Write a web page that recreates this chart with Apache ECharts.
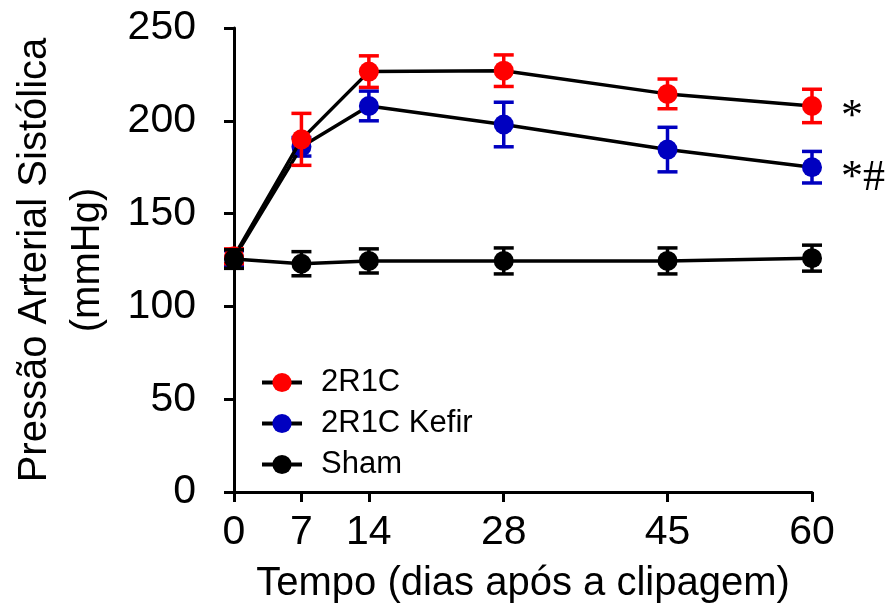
<!DOCTYPE html>
<html>
<head>
<meta charset="utf-8">
<script src="https://cdn.jsdelivr.net/npm/echarts@6/dist/echarts.min.js"></script>
<style>
  html, body { margin: 0; padding: 0; background: #fff; }
  #chart { width: 885px; height: 604px; }
</style>
</head>
<body>
<div id="chart"></div>
<script>
// dias após a clipagem
var days = [0, 7, 14, 28, 45, 60];

// médias e erros (mmHg)
var r2r1c = [127, 190, 226.5, 227, 214.5, 208];
var r2r1cErr = [4, 14, 8.5, 8.5, 8, 9];
var kefir = [126, 186, 208, 198, 184.5, 175];
var kefirErr = [4, 5, 8, 12, 12, 8.5];
var sham = [125.5, 123, 124.5, 124.5, 124.5, 126];
var shamErr = [5, 6.5, 6.5, 7, 7, 7];

var names = ["2R1C", "2R1C Kefir", "Sham"];
var colors = ["#ff0000", "#0000c0", "#000000"];
var marks = ["*", "*#", ""];

var yTicks = [0, 50, 100, 150, 200, 250];

var font = "Liberation Sans, Arial, sans-serif";

function pts(vals) {
  return days.map(function (d, i) { return [d, vals[i]]; });
}
function errs(vals, e) {
  return days.map(function (d, i) { return [d, vals[i] - e[i], vals[i] + e[i]]; });
}

function errorBar(color) {
  return function (params, api) {
    var x = api.value(0);
    var top = api.coord([x, api.value(2)]);
    var bot = api.coord([x, api.value(1)]);
    var w = 10;
    var st = { stroke: color, lineWidth: 3.5 };
    return {
      type: "group",
      children: [
        { type: "line", shape: { x1: top[0], y1: top[1], x2: bot[0], y2: bot[1] }, style: st },
        { type: "line", shape: { x1: top[0] - w, y1: top[1], x2: top[0] + w, y2: top[1] }, style: st },
        { type: "line", shape: { x1: bot[0] - w, y1: bot[1], x2: bot[0] + w, y2: bot[1] }, style: st },
      ],
    };
  };
}

var groups = [
  { name: names[1], vals: kefir, e: kefirErr, color: colors[1], mark: marks[1], z: 2 },
  { name: names[0], vals: r2r1c, e: r2r1cErr, color: colors[0], mark: marks[0], z: 4 },
  { name: names[2], vals: sham, e: shamErr, color: colors[2], mark: marks[2], z: 6 },
];

var series = [];
groups.forEach(function (g) {
  series.push({
    type: "custom",
    name: g.name + " erro",
    z: g.z,
    silent: true,
    renderItem: errorBar(g.color),
    encode: { x: 0, y: [1, 2] },
    data: errs(g.vals, g.e),
  });
  var s = {
    type: "line",
    name: g.name,
    z: g.z + 1,
    data: pts(g.vals),
    symbol: "circle",
    symbolSize: 20,
    itemStyle: { color: g.color },
    lineStyle: { color: "#000", width: 3.5 },
    emphasis: { disabled: true },
  };
  if (g.mark) {
    var last = days.length - 1;
    s.markPoint = {
      symbol: "circle",
      symbolSize: 2,
      itemStyle: { color: "transparent" },
      label: {
        show: true,
        position: "right",
        distance: 28,
        offset: [0, 11],
        formatter: g.mark,
        color: "#000",
        fontFamily: "Liberation Serif, Times New Roman, serif",
        fontSize: 44,
      },
      data: [{ coord: [days[last], g.vals[last]] }],
    };
  }
  series.push(s);
});

var myChart = echarts.init(document.getElementById("chart"));
myChart.setOption({
  animation: false,
  backgroundColor: "#fff",
  grid: { left: 234, right: 73, top: 28, bottom: 112, containLabel: false, outerBoundsMode: "none" },
  legend: {
    data: names,
    orient: "vertical",
    left: 255,
    top: 362,
    itemWidth: 40,
    itemHeight: 24,
    itemGap: 10,
    lineStyle: { color: "#000", width: 4 },
    textStyle: { color: "#000", fontSize: 31, fontFamily: font, padding: [0, 0, 0, 14] },
  },
  xAxis: {
    type: "value",
    min: 0,
    max: 60,
    name: "Tempo (dias após a clipagem)",
    nameLocation: "middle",
    nameGap: 72,
    nameTextStyle: { color: "#000", fontSize: 40, fontFamily: font },
    axisLine: { show: true, lineStyle: { color: "#000", width: 3 } },
    axisTick: { show: true, length: 10, lineStyle: { color: "#000", width: 3 }, customValues: days },
    axisLabel: { color: "#000", fontSize: 41, fontFamily: font, margin: 20, customValues: days },
    splitLine: { show: false },
  },
  yAxis: {
    type: "value",
    min: 0,
    max: 250,
    interval: 50,
    name: "Pressão Arterial Sistólica\n(mmHg)",
    nameLocation: "middle",
    nameRotate: 90,
    nameGap: 120,
    nameTextStyle: { color: "#000", fontSize: 40, fontFamily: font, lineHeight: 53 },
    axisLine: { show: true, lineStyle: { color: "#000", width: 3 } },
    axisTick: { show: true, length: 10, lineStyle: { color: "#000", width: 3 }, customValues: yTicks },
    axisLabel: { color: "#000", fontSize: 41, fontFamily: font, margin: 38 },
    splitLine: { show: false },
  },
  series: series,
});
</script>
</body>
</html>
